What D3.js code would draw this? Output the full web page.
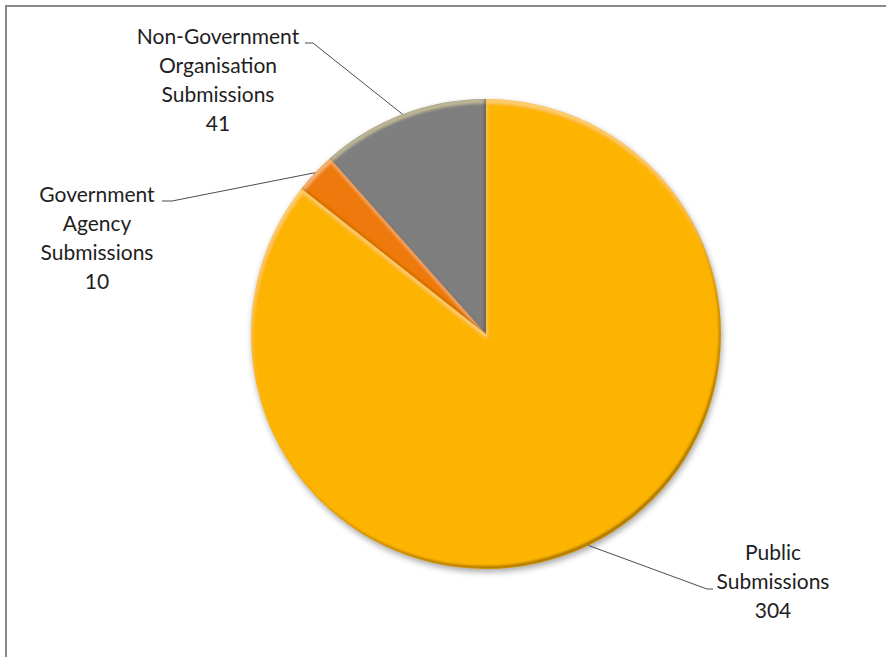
<!DOCTYPE html>
<html>
<head>
<meta charset="utf-8">
<script src="https://cdn.jsdelivr.net/npm/d3@7"></script>
<style>
  body { margin: 0; background: #fff; }
  svg { display: block; }
  .lbl { font-family: Lato, "Open Sans", sans-serif; font-size: 21px; fill: #1e1e1e; }
</style>
</head>
<body>
<svg width="886" height="657"></svg>
<script>
// data
var categories = ['Public Submissions', 'Government Agency Submissions', 'Non-Government Organisation Submissions'];
var values = [304, 10, 41];
var colours = ['#FDB405', '#EE7A0C', '#7F7F80'];

// label text lines (name split as on chart) and where they sit
var labelLines = [['Public', 'Submissions'], ['Government', 'Agency', 'Submissions'], ['Non-Government', 'Organisation', 'Submissions']];
var labelPos = [[773, 560], [97, 202], [218, 44]];      // x centre, first baseline
var leaderEnd = [[707, 589, 713], [172, 201, 162], [313, 43, 305]]; // elbow x,y then end x

var svg = d3.select('svg');
var cx = 486, cy = 334, r = 235, lineH = 29;

// outer frame (only top and left edges fall inside the picture)
svg.append('rect')
    .attr('x', 6).attr('y', 6)
    .attr('width', 900).attr('height', 700)
    .attr('fill', 'none')
    .attr('stroke', '#8a8a8a')
    .attr('stroke-width', 2);

var defs = svg.append('defs');

// soft drop shadow under the pie
var sh = defs.append('filter').attr('id', 'shadow')
    .attr('x', '-20%').attr('y', '-20%').attr('width', '140%').attr('height', '140%');
sh.append('feGaussianBlur').attr('in', 'SourceAlpha').attr('stdDeviation', 3).attr('result', 'b');
sh.append('feOffset').attr('in', 'b').attr('dx', 1).attr('dy', 3).attr('result', 'o');
sh.append('feComponentTransfer').attr('in', 'o')
    .append('feFuncA').attr('type', 'linear').attr('slope', 0.35);

// bevel: light rim on upper edges, dark rim on lower edges
var bv = defs.append('filter').attr('id', 'bevel');
bv.append('feOffset').attr('in', 'SourceAlpha').attr('dx', 1).attr('dy', 4).attr('result', 'down');
bv.append('feComposite').attr('in', 'SourceAlpha').attr('in2', 'down').attr('operator', 'out').attr('result', 'topEdge');
bv.append('feGaussianBlur').attr('in', 'topEdge').attr('stdDeviation', 1.5).attr('result', 'topBlur');
bv.append('feFlood').attr('flood-color', '#fff3b0').attr('flood-opacity', 0.45).attr('result', 'white');
bv.append('feComposite').attr('in', 'white').attr('in2', 'topBlur').attr('operator', 'in').attr('result', 'hi');
bv.append('feOffset').attr('in', 'SourceAlpha').attr('dx', -2).attr('dy', -3).attr('result', 'up');
bv.append('feComposite').attr('in', 'SourceAlpha').attr('in2', 'up').attr('operator', 'out').attr('result', 'botEdge');
bv.append('feGaussianBlur').attr('in', 'botEdge').attr('stdDeviation', 0.9).attr('result', 'botBlur');
bv.append('feFlood').attr('flood-color', '#5a3a00').attr('flood-opacity', 0.7).attr('result', 'dark');
bv.append('feComposite').attr('in', 'dark').attr('in2', 'botBlur').attr('operator', 'in').attr('result', 'lo');
bv.append('feComposite').attr('in', 'hi').attr('in2', 'SourceAlpha').attr('operator', 'in').attr('result', 'hiIn');
bv.append('feComposite').attr('in', 'lo').attr('in2', 'SourceAlpha').attr('operator', 'in').attr('result', 'loIn');
var mg = bv.append('feMerge');
mg.append('feMergeNode').attr('in', 'SourceGraphic');
mg.append('feMergeNode').attr('in', 'hiIn');
mg.append('feMergeNode').attr('in', 'loIn');

var pie = d3.pie().sort(null).value(function(d){ return d; });
var arcs = pie(values);

var arc = d3.arc().innerRadius(0).outerRadius(r);
var rim = d3.arc().innerRadius(r).outerRadius(r);

var g = svg.append('g').attr('transform', 'translate(' + cx + ',' + cy + ')');

g.append('circle').attr('r', r).attr('fill', '#999').attr('filter', 'url(#shadow)');

g.selectAll('path.slice')
    .data(arcs)
    .enter()
    .append('path')
    .attr('class', 'slice')
    .attr('d', arc)
    .attr('fill', function(d, i){ return colours[i]; })
    .attr('filter', 'url(#bevel)');

// leader lines from slice rim to label
svg.selectAll('polyline.leader')
    .data(arcs)
    .enter()
    .append('polyline')
    .attr('class', 'leader')
    .attr('fill', 'none')
    .attr('stroke', '#4d4d4d')
    .attr('stroke-width', 1)
    .attr('points', function(d, i){
        var p = rim.centroid(d);
        var e = leaderEnd[i];
        return [[cx + p[0], cy + p[1]], [e[0], e[1]], [e[2], e[1]]].join(' ');
    });

// labels
var lbl = svg.selectAll('text.lbl')
    .data(arcs)
    .enter()
    .append('text')
    .attr('class', 'lbl')
    .attr('text-anchor', 'middle');

lbl.each(function(d, i){
    var t = d3.select(this);
    var lines = labelLines[i].concat([String(values[i])]);
    lines.forEach(function(s, k){
        t.append('tspan')
            .attr('x', labelPos[i][0])
            .attr('y', labelPos[i][1] + k * lineH)
            .text(s);
    });
});
</script>
</body>
</html>
